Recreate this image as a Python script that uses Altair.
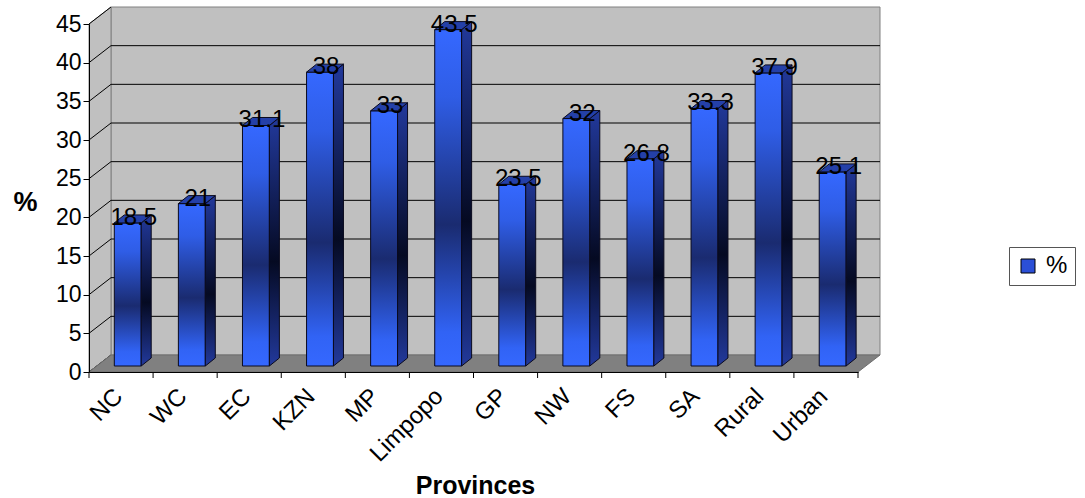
import json
import altair as alt
import pandas as pd

# ---- data ------------------------------------------------------------------
provinces = ["NC", "WC", "EC", "KZN", "MP", "Limpopo", "GP", "NW", "FS", "SA", "Rural", "Urban"]
percent = [18.5, 21, 31.1, 38, 33, 43.5, 23.5, 32, 26.8, 33.3, 37.9, 25.1]
y_ticks = [0, 5, 10, 15, 20, 25, 30, 35, 40, 45]
series_name = "%"

# ---- geometry of the pseudo-3D box -----------------------------------------
PLOT_W, PLOT_H = 769, 348
N = len(provinces)
Y_MAX = 45
PX_X = PLOT_W / N
PX_Y = PLOT_H / Y_MAX


def ux(px):
    return px / PX_X


def uy(px):
    return px / PX_Y


WALL_DX, WALL_DY = ux(22), uy(17)    # depth of the chart box
BAR_DX, BAR_DY = ux(8), uy(6)        # depth at which the bars stand
SIDE_DX, SIDE_DY = ux(10), uy(8)     # bar thickness
BAR_L, BAR_R = 0.27, 0.69            # bar front face inside its category slot
LABEL_DX = ux(6)

FONT = "Liberation Sans"

xs = alt.Scale(domain=[0, N], nice=False, zero=False)
ys = alt.Scale(domain=[0, Y_MAX], nice=False, zero=False)

# ---- tables ----------------------------------------------------------------
bars = pd.DataFrame({"name": provinces, "val": percent})
bars["i"] = range(N)
bars["left"] = bars["i"] + BAR_L + BAR_DX
bars["right"] = bars["i"] + BAR_R + BAR_DX
bars["base"] = BAR_DY
bars["top"] = bars["val"] + BAR_DY
bars["lx"] = (bars["left"] + bars["right"]) / 2 + LABEL_DX
bars["series"] = series_name

side_rows, top_rows = [], []
for r in bars.to_dict("records"):
    side_rows.append({"name": r["name"], "x": r["right"], "lo": r["base"], "hi": r["top"]})
    side_rows.append({"name": r["name"], "x": r["right"] + SIDE_DX,
                      "lo": r["base"] + SIDE_DY, "hi": r["top"] + SIDE_DY})
    top_rows.append({"name": r["name"], "y": r["top"], "x": r["left"], "x2": r["right"]})
    top_rows.append({"name": r["name"], "y": r["top"] + SIDE_DY,
                     "x": r["left"] + SIDE_DX, "x2": r["right"] + SIDE_DX})
side = pd.DataFrame(side_rows)
topf = pd.DataFrame(top_rows)

grid = pd.DataFrame({"t": y_ticks})
grid["x0"] = 0.0
grid["x1"] = WALL_DX
grid["x2"] = N + WALL_DX
grid["yb"] = grid["t"] + WALL_DY

wall = pd.DataFrame({"x": [WALL_DX], "x2": [N + WALL_DX], "y": [WALL_DY], "y2": [Y_MAX + WALL_DY]})
left_wall = pd.DataFrame({"x": [0.0, WALL_DX], "lo": [0.0, WALL_DY], "hi": [Y_MAX, Y_MAX + WALL_DY]})
floor = pd.DataFrame({"y": [0.0, WALL_DY], "x": [0.0, WALL_DX], "x2": [float(N), N + WALL_DX]})
x_ticks = pd.DataFrame({"k": list(range(N + 1))})
x_ticks["y"] = 0.0
x_ticks["y2"] = -uy(6)

# ---- styles ----------------------------------------------------------------
front_fill = alt.LinearGradient(
    gradient="linear", x1=0, x2=0, y1=0, y2=1,
    stops=[
        alt.GradientStop(color="#3568ff", offset=0),
        alt.GradientStop(color="#2f5de6", offset=0.2),
        alt.GradientStop(color="#1a2b70", offset=0.58),
        alt.GradientStop(color="#3163f5", offset=0.9),
        alt.GradientStop(color="#3568ff", offset=1),
    ],
)
side_fill = alt.LinearGradient(
    gradient="linear", x1=0, x2=0, y1=0, y2=1,
    stops=[
        alt.GradientStop(color="#22399c", offset=0),
        alt.GradientStop(color="#050a22", offset=0.58),
        alt.GradientStop(color="#22399c", offset=1),
    ],
)
EDGE = "#0a0a1e"

y_axis = alt.Axis(
    values=y_ticks, tickSize=6, tickColor="black", domainColor="black",
    labelFont=FONT, labelFontSize=23, labelColor="black", labelPadding=2,
    grid=False, title="%", titleAngle=0, titleFont=FONT, titleFontSize=27,
    titleFontWeight="bold", titleColor="black", titleX=-64, titleY=178,
    titleAlign="center", titleBaseline="middle", zindex=1,
)
label_expr = json.dumps(provinces) + "[floor(datum.value)]"
x_axis = alt.Axis(
    values=[i + 0.33 for i in range(N)], labelExpr=label_expr, ticks=False,
    domainColor="black", labelAngle=-45, labelAlign="right", labelBaseline="top",
    labelPadding=12, labelFont=FONT, labelFontSize=24, labelColor="black",
    labelFlush=False, labelOverlap=False, grid=False,
    title="Provinces", titleFont=FONT, titleFontSize=25, titleFontWeight="bold",
    titleColor="black", titleX=386, titleY=113, titleAlign="center",
    titleBaseline="middle", zindex=1,
)


def X(field):
    return alt.X(field, scale=xs, axis=x_axis)


def Y(field):
    return alt.Y(field, scale=ys, axis=y_axis)


# ---- layers ----------------------------------------------------------------
back = alt.Chart(wall).mark_rect(fill="#c0c0c0", stroke="#808080", strokeWidth=1).encode(
    x=X("x:Q"), x2="x2:Q", y=Y("y:Q"), y2="y2:Q",
)

lwall = alt.Chart(left_wall).mark_area(orient="vertical", fill="#c0c0c0", stroke="#808080", strokeWidth=1).encode(
    x=X("x:Q"), y=Y("lo:Q"), y2="hi:Q",
)

back_grid = alt.Chart(grid[(grid.t > 0) & (grid.t < Y_MAX)]).mark_rule(color="black", strokeWidth=1).encode(
    x=X("x1:Q"), x2="x2:Q", y=Y("yb:Q"),
)

side_grid = alt.Chart(grid).mark_rule(color="black", strokeWidth=1).encode(
    x=X("x0:Q"), x2="x1:Q", y=Y("t:Q"), y2="yb:Q",
)

floor_l = alt.Chart(floor).mark_area(orient="horizontal", fill="#808080", stroke="#6e6e6e", strokeWidth=1).encode(
    y=Y("y:Q"), x=X("x:Q"), x2="x2:Q",
)

front = alt.Chart(bars).mark_rect(fill=front_fill, stroke=EDGE, strokeWidth=1).encode(
    x=X("left:Q"), x2="right:Q", y=Y("base:Q"), y2="top:Q",
)

side_face = alt.Chart(side).mark_area(orient="vertical", fill=side_fill, stroke=EDGE, strokeWidth=1).encode(
    x=X("x:Q"), y=Y("lo:Q"), y2="hi:Q", detail="name:N",
)

top_face = alt.Chart(topf).mark_area(orient="horizontal", fill="#2440a8", stroke=EDGE, strokeWidth=1).encode(
    y=Y("y:Q"), x=X("x:Q"), x2="x2:Q", detail="name:N",
)

value_labels = alt.Chart(bars).mark_text(
    font=FONT, fontSize=24, color="black", baseline="alphabetic", align="center", dy=2,
).encode(
    x=X("lx:Q"), y=Y("top:Q"), text=alt.Text("val:Q", format="~g"),
)

tick_marks = alt.Chart(x_ticks).mark_rule(color="black", strokeWidth=1).encode(
    x=X("k:Q"), y=Y("y:Q"), y2="y2:Q",
)

legend_key = alt.Chart(bars).mark_point(shape="square", filled=True, opacity=0).encode(
    x=X("lx:Q"),
    y=Y("top:Q"),
    color=alt.Color(
        "series:N",
        scale=alt.Scale(domain=[series_name], range=["#2b4fd6"]),
        legend=alt.Legend(
            title=None, orient="none", legendX=920, legendY=223,
            padding=7, strokeColor="#555555", fillColor="white",
            symbolType="square", symbolSize=196, symbolOpacity=1,
            symbolStrokeColor="black", symbolStrokeWidth=1,
            labelFont=FONT, labelFontSize=24, labelColor="black", labelOffset=6,
        ),
    ),
)

chart = alt.layer(
    back, lwall, back_grid, side_grid, floor_l,
    front, side_face, top_face, value_labels, tick_marks, legend_key,
).properties(
    width=PLOT_W, height=PLOT_H,
    autosize=alt.AutoSizeParams(type="none"),
    padding={"left": 89, "top": 24, "right": 1085 - 89 - PLOT_W, "bottom": 498 - 24 - PLOT_H},
    background="white",
).configure_view(strokeWidth=0)

chart.save("out.html", embed_options={"renderer": "svg", "actions": False})
